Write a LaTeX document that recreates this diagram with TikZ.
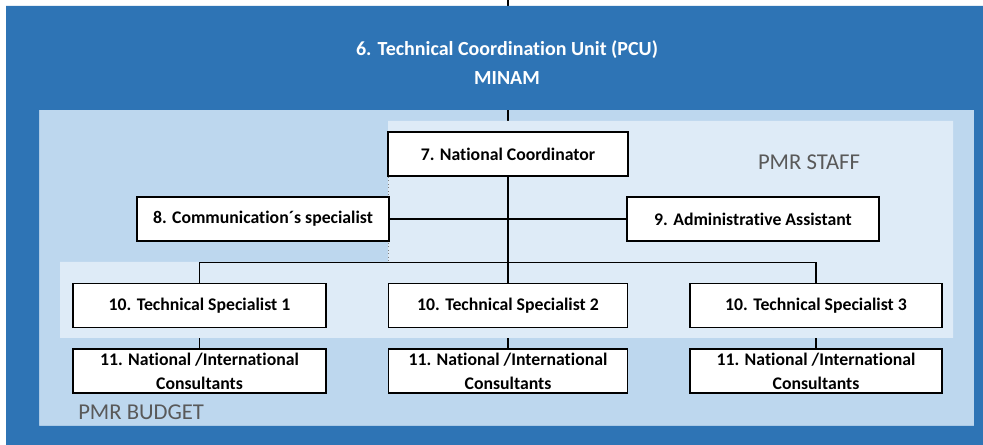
\documentclass[tikz,border=0pt]{standalone}
\usepackage{fontspec}
\setmainfont{Carlito}[Ligatures=NoCommon]
\definecolor{darkblue}{HTML}{2E74B5}
\definecolor{lightblue}{HTML}{BDD7EE}
\definecolor{paleblue}{HTML}{DEEBF7}
\definecolor{labelgray}{HTML}{595959}
\pgfdeclarelayer{back}
\pgfdeclarelayer{mid}
\pgfsetlayers{back,mid,main}
\begin{document}
\begin{tikzpicture}[x=0.75pt,y=-0.75pt,
  orgbox/.style={draw=black,line width=1.1pt,fill=white,font=\bfseries\fontsize{13.3pt}{18pt}\selectfont,align=center,minimum height=33pt,inner sep=0pt},
  conn/.style={draw=black,line width=0.8pt},
  title/.style={text=white,font=\bfseries\fontsize{15pt}{18pt}\selectfont},
  zone/.style={text=labelgray,font=\fontsize{17pt}{20pt}\selectfont}]
\useasboundingbox (0,0) rectangle (983,445);
% nodes
\node[orgbox,minimum width=180pt] (n7) at (508,154) {7. National Coordinator};
\node[orgbox,minimum width=189pt] (n8) at (263,219) {8. Communication´s specialist};
\node[orgbox,minimum width=189pt] (n9) at (753,219) {9. Administrative Assistant};
\node[orgbox,minimum width=189.75pt] (n10a) at (199.5,305.5) {10. Technical Specialist 1};
\node[orgbox,minimum width=179.25pt] (n10b) at (508,305.5) {10. Technical Specialist 2};
\node[orgbox,minimum width=189pt] (n10c) at (816,305.5) {10. Technical Specialist 3};
\node[orgbox,minimum width=189.75pt] (n11a) at (199.5,371) {11. National /International\\Consultants};
\node[orgbox,minimum width=179.25pt] (n11b) at (508,371) {11. National /International\\Consultants};
\node[orgbox,minimum width=189pt] (n11c) at (816,371) {11. National /International\\Consultants};
\coordinate (top) at (508,0);
% backgrounds
\begin{pgfonlayer}{back}
\fill[lightblue] (39,110) rectangle (974,426);
\draw[conn] (top) -- (n7.north);
\draw[conn] (n10a.south) -- (n11a.north);
\draw[conn] (n10b.south) -- (n11b.north);
\draw[conn] (n10c.south) -- (n11c.north);
\end{pgfonlayer}
\begin{pgfonlayer}{mid}
\fill[darkblue,even odd rule] (6,6) rectangle (983,445) (39,110) rectangle (974,426);
\fill[paleblue] (388,121) -- (953,121) -- (953,338) -- (60,338) -- (60,262) -- (388,262) -- cycle;
\draw[gray,line width=0.6pt,dotted] (388,177) -- (388,262);
\end{pgfonlayer}
% titles and labels
\node[title] (t1) at (507,50) {6. Technical Coordination Unit (PCU)};
\node[title] (t2) at (507,78) {MINAM};
\node[zone] (staff) at (809,162) {PMR STAFF};
\node[zone,anchor=west,inner sep=0pt] (budget) at (78,412) {PMR BUDGET};
% connectors
\draw[conn] (n7.south) -- (n10b.north);
\draw[conn] (n8.east) -- (n9.west);
\draw[conn] (n10a.north) -- ++(0,-20) -| (n10c.north);
\end{tikzpicture}
\end{document}
